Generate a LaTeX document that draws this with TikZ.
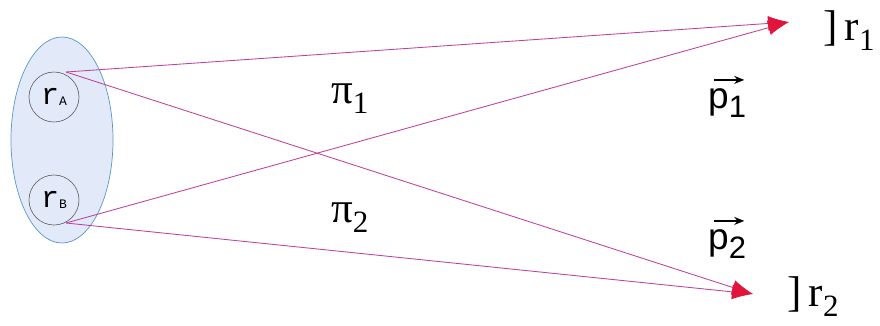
\documentclass[tikz,border=0pt]{standalone}
\usepackage{fontspec}
\setmainfont{Liberation Serif}
\setsansfont{Liberation Sans}
\newfontfamily\monof{Liberation Mono}
\usetikzlibrary{arrows.meta,shapes.geometric}
\definecolor{ellfill}{RGB}{226,234,250}
\definecolor{ellline}{RGB}{90,150,200}
\definecolor{beam}{RGB}{190,65,155}
\definecolor{tipred}{RGB}{225,20,60}
\tikzset{
  beamline/.style={draw=beam, line width=0.85pt, -{Latex[length=21pt,width=15pt,color=tipred]}},
  atom/.style={circle, draw=black!65, line width=0.6pt, minimum size=50pt, inner sep=0pt, font=\monof\fontsize{30}{32}\selectfont},
  lbl/.style={inner sep=0pt, anchor=base west, font=\rmfamily\fontsize{43}{45}\selectfont},
  plbl/.style={inner sep=0pt, anchor=base west, font=\sffamily\fontsize{37}{39}\selectfont},
}
\newcommand{\subs}[1]{\raisebox{-0.25em}{\fontsize{31}{33}\selectfont #1}}
\newcommand{\atomsub}[1]{\raisebox{-0.05em}{\fontsize{13}{15}\selectfont #1}}
\begin{document}
\begin{tikzpicture}[x=1pt,y=-1pt]
\useasboundingbox (0,0) rectangle (880,325);
\node[ellipse, draw=ellline, fill=ellfill, line width=0.7pt, minimum width=102pt, minimum height=206pt, inner sep=0pt] (ell) at (62,140) {};
\node[atom] (ra) at (54,97) {r\atomsub{A}};
\node[atom] (rb) at (54,200) {r\atomsub{B}};
\coordinate (a) at (66,72);
\coordinate (b) at (66,223);
\coordinate (t1) at (789,22);
\coordinate (t2) at (753,294);
\draw[beamline] (a) -- (t1);
\draw[beamline] (b) -- (t1);
\draw[beamline] (a) -- (t2);
\draw[beamline] (b) -- (t2);
\node[lbl] (r1) at (823,40) {]\,r\subs{1}};
\node[lbl] (r2) at (787,306) {]\,r\subs{2}};
\node[lbl] (pi1) at (331,103) {π\subs{1}};
\node[lbl] (pi2) at (331,222) {π\subs{2}};
\node[plbl] (p1) at (708,108) {p\subs{1}};
\node[plbl] (p2) at (708,249) {p\subs{2}};
\draw[line width=1.3pt, -{Stealth[length=10pt,width=8pt]}] ([xshift=6pt,yshift=8pt]p1.north west) -- ([xshift=-2pt,yshift=8pt]p1.north east);
\draw[line width=1.3pt, -{Stealth[length=10pt,width=8pt]}] ([xshift=6pt,yshift=8pt]p2.north west) -- ([xshift=-2pt,yshift=8pt]p2.north east);
\end{tikzpicture}
\end{document}
